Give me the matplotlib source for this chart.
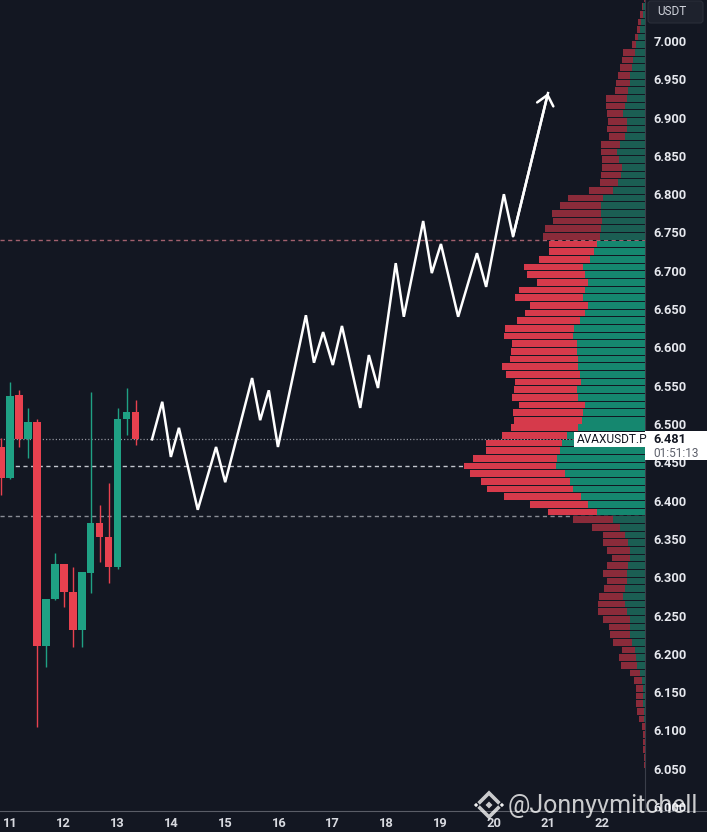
import numpy as np
import matplotlib
matplotlib.use('Agg')
import matplotlib.pyplot as plt
from matplotlib.patches import FancyBboxPatch, Rectangle, RegularPolygon
from matplotlib.transforms import IdentityTransform

plt.rcParams['font.family'] = ['Roboto', 'DejaVu Sans']

BG = '#131722'
W, H = 707, 832

# ---------------- data ----------------
# 4h candles, first candle at day 10 20:00
candle_start_day = 10 + 20 / 24
candle_step_day = 4 / 24
candle_open  = [6.470, 6.430, 6.538, 6.480, 6.503, 6.210, 6.272, 6.317, 6.281, 6.231, 6.306, 6.371, 6.352, 6.313, 6.507, 6.516]
candle_high  = [6.482, 6.555, 6.544, 6.521, 6.506, 6.272, 6.332, 6.317, 6.313, 6.307, 6.542, 6.394, 6.423, 6.521, 6.547, 6.531]
candle_low   = [6.407, 6.428, 6.470, 6.456, 6.104, 6.183, 6.270, 6.261, 6.209, 6.209, 6.279, 6.320, 6.292, 6.311, 6.486, 6.473]
candle_close = [6.430, 6.537, 6.480, 6.503, 6.210, 6.272, 6.317, 6.281, 6.231, 6.307, 6.371, 6.352, 6.313, 6.507, 6.516, 6.481]

# projected path (day, price)
path_day = [13.64, 13.83, 13.99, 14.14, 14.49, 14.83, 15.00, 15.50, 15.65, 15.81, 15.98, 16.50, 16.65, 16.82, 17.00,
            17.17, 17.51, 17.67, 17.84, 18.17, 18.32, 18.68, 18.84, 19.01, 19.33, 19.68, 19.85, 20.18, 20.35, 21.00]
path_price = [6.480, 6.529, 6.457, 6.495, 6.388, 6.470, 6.424, 6.560, 6.505, 6.544, 6.470, 6.642, 6.580, 6.620, 6.577,
              6.628, 6.521, 6.590, 6.547, 6.710, 6.640, 6.765, 6.697, 6.735, 6.640, 6.723, 6.679, 6.800, 6.745, 6.932]

# volume profile rows (lower edge price), total volume and up volume
profile_price = [7.05, 7.04, 7.03, 7.02, 7.01, 7.00, 6.99, 6.98, 6.97, 6.96, 6.95, 6.94, 6.93, 6.92, 6.91, 6.90,
                 6.89, 6.88, 6.87, 6.86, 6.85, 6.84, 6.83, 6.82, 6.81, 6.80, 6.79, 6.78, 6.77, 6.76, 6.75, 6.74,
                 6.73, 6.72, 6.71, 6.70, 6.69, 6.68, 6.67, 6.66, 6.65, 6.64, 6.63, 6.62, 6.61, 6.60, 6.59, 6.58,
                 6.57, 6.56, 6.55, 6.54, 6.53, 6.52, 6.51, 6.50, 6.49, 6.48, 6.47, 6.46, 6.45, 6.44, 6.43, 6.42,
                 6.41, 6.40, 6.39, 6.38, 6.37, 6.36, 6.35, 6.34, 6.33, 6.32, 6.31, 6.30, 6.29, 6.28, 6.27, 6.26,
                 6.25, 6.24, 6.23, 6.22, 6.21, 6.20, 6.19, 6.18, 6.17, 6.16, 6.15, 6.14, 6.13, 6.12, 6.11, 6.10,
                 6.09, 6.08, 6.07, 6.06, 6.05, 6.04, 6.03]
profile_total = [1, 3, 5, 7, 8, 10, 13, 22, 23, 25, 27, 29, 30, 39, 39, 38,
                 37, 38, 36, 44, 44, 43, 43, 44, 45, 56, 77, 85, 93, 92, 100, 102,
                 96, 96, 106, 121, 118, 108, 126, 130, 115, 120, 128, 140, 141, 133, 134, 135,
                 143, 139, 130, 131, 133, 126, 132, 131, 134, 143, 159, 159, 172, 181, 175, 164,
                 158, 141, 115, 97, 72, 53, 42, 42, 38, 33, 38, 42, 38, 41, 46, 47,
                 47, 42, 36, 35, 32, 23, 26, 24, 15, 11, 9, 9, 9, 8, 6, 3,
                 2, 2, 2, 1, 1, 0.5, 0.5]
profile_up = [0.5, 2, 2, 4, 5, 7, 9, 10, 12, 13, 15, 15, 17, 18, 20, 22,
              18, 18, 20, 25, 28, 26, 23, 24, 27, 32, 42, 44, 44, 43, 44, 45,
              48, 51, 55, 62, 60, 57, 60, 62, 57, 60, 65, 71, 72, 68, 68, 67,
              67, 65, 64, 68, 67, 60, 62, 63, 67, 78, 83, 85, 88, 89, 80, 75,
              72, 64, 57, 48, 32, 25, 20, 17, 15, 15, 17, 18, 18, 20, 22, 20,
              18, 15, 15, 15, 13, 10, 9, 8, 5, 3, 2, 2, 2, 1, 1, 0,
              0, 0, 0, 0, 0, 0, 0]
profile_row = 0.01
value_area_low = 6.38
value_area_high = 6.74
poc_level = 6.445
last_price = 6.481

price_ticks = [6.000, 6.050, 6.100, 6.150, 6.200, 6.250, 6.300, 6.350, 6.400, 6.450, 6.500,
               6.550, 6.600, 6.650, 6.700, 6.750, 6.800, 6.850, 6.900, 6.950, 7.000]
day_ticks = [11, 12, 13, 14, 15, 16, 17, 18, 19, 20, 21, 22]

# ---------------- figure ----------------
fig = plt.figure(figsize=(W / 100, H / 100), dpi=100, facecolor=BG)
ax_rect = [0, 21 / H, 645 / W, 811 / H]
ax = fig.add_axes(ax_rect, facecolor=BG)
ax.set_xlim(10.8141, 22.803)
ax.set_ylim(5.99478, 7.05352)

# reference lines
ax.axhline(value_area_high, color='#a2606e', lw=1.0, ls=(0, (3, 2.5)), zorder=1)
ax.axhline(last_price, color='#8f929b', lw=0.9, ls=(0, (1, 1.6)), zorder=1)
ax.axhline(poc_level, color='#c3c6ce', lw=1.0, ls=(0, (3, 2.5)), zorder=1)
ax.axhline(value_area_low, color='#8a8d96', lw=1.0, ls=(0, (3, 2.5)), zorder=1)

# candles
UP_C, DN_C = '#1fa184', '#e8414f'
for i, (o, h, l, c) in enumerate(zip(candle_open, candle_high, candle_low, candle_close)):
    t = candle_start_day + i * candle_step_day
    col = UP_C if c >= o else DN_C
    ax.vlines(t, l, h, color=col, lw=1.0, zorder=3)
    ax.bar(t, abs(c - o), bottom=min(o, c), width=candle_step_day * 0.84, color=col,
           edgecolor='none', zorder=4)

# projected path
ax.plot(path_day, path_price, color='white', lw=1.8, solid_joinstyle='miter', zorder=5)
ax.annotate('', xy=(path_day[-1], path_price[-1]), xytext=(path_day[-2], path_price[-2]),
            arrowprops=dict(arrowstyle='->,head_length=0.7,head_width=0.6', color='white', lw=1.8,
                            shrinkA=0, shrinkB=0, mutation_scale=10), zorder=5)

# axes styling
for s in ['top', 'left']:
    ax.spines[s].set_visible(False)
ax.spines['right'].set_color('#3a3e49')
ax.spines['bottom'].set_color('#5a5d67')
ax.spines['right'].set_linewidth(0.8)
ax.spines['bottom'].set_linewidth(0.8)
ax.yaxis.tick_right()
ax.set_yticks(price_ticks)
ax.set_yticklabels([f'{p:.3f}' for p in price_ticks])
ax.set_xticks(day_ticks)
ax.set_xticklabels([str(d) for d in day_ticks])
ax.tick_params(axis='y', length=0, pad=6, labelsize=9.3, labelcolor='#e6e8ee')
ax.tick_params(axis='x', length=0, pad=4.5, labelsize=9.3, labelcolor='#d8dae0')
for lab in ax.get_yticklabels() + ax.get_xticklabels():
    lab.set_fontweight('bold')

# volume profile
ax2 = fig.add_axes(ax_rect, sharey=ax)
ax2.patch.set_visible(False)
ax2.set_xlim(645, 0)
ax2.axis('off')
for p, tot, up in zip(profile_price, profile_total, profile_up):
    in_va = value_area_low - 1e-9 <= p < value_area_high - 1e-9
    g = '#15876f' if in_va else '#1b5e53'
    r = '#d63a4b' if in_va else '#8a2b3a'
    yc = p + profile_row / 2
    ax2.barh(yc, up, left=0, height=profile_row * 0.87, color=g, edgecolor='none', zorder=2)
    ax2.barh(yc, tot - up, left=up, height=profile_row * 0.87, color=r, edgecolor='none', zorder=2)

# bottom axis line across price scale
fig.add_artist(plt.Line2D([645 / W, 1], [21 / H, 21 / H], color='#5a5d67', lw=0.8,
                          transform=fig.transFigure))

# USDT box
fig.add_artist(FancyBboxPatch((648, H - 23), 55, 22, boxstyle='round,pad=0,rounding_size=3',
                              transform=IdentityTransform(), fc='#1e222d', ec='#2a2e39', lw=0.8, zorder=10))
fig.text(657 / W, 1 - 11.5 / H, 'USDT', color='#d1d4dc', fontsize=8.5, ha='left', va='center', zorder=11)

# last price labels
fig.canvas.draw()
ypix = ax.transData.transform((0, last_price))[1]  # display px from bottom
fig.add_artist(Rectangle((574, ypix - 8.5), 71, 15.5, transform=IdentityTransform(),
                         fc='white', ec='none', zorder=10))
fig.text(577 / W, (ypix - 0.5) / H, 'AVAXUSDT.P', color='#131722', fontsize=8.6,
         ha='left', va='center', zorder=11)
fig.add_artist(Rectangle((645, ypix - 21.5), 62, 29, transform=IdentityTransform(),
                         fc='white', ec='none', zorder=10))
fig.text(653 / W, (ypix - 0.5) / H, f'{last_price:.3f}', color='#131722', fontsize=9.2,
         fontweight='bold', ha='left', va='center', zorder=11)
fig.text(653 / W, (ypix - 14.5) / H, '01:51:13', color='#5d606b', fontsize=8.6,
         ha='left', va='center', zorder=11)

# watermark
wm_col = (1, 1, 1, 0.78)
fig.text(508 / W, 1 - 806 / H, '@Jonnyvmitchell', color=wm_col, fontsize=18,
         ha='left', va='center', zorder=12)
cx, cy = 489, H - 805
fig.add_artist(RegularPolygon((cx, cy), 4, radius=12, orientation=0, transform=IdentityTransform(),
                              fc='none', ec=wm_col, lw=2.6, zorder=12))
for dx, rr in [(0, 4.5), (-13, 3.2), (13, 3.2)]:
    fig.add_artist(RegularPolygon((cx + dx, cy), 4, radius=rr, orientation=0, transform=IdentityTransform(),
                                  fc=wm_col, ec=BG, lw=1.0, zorder=13))

fig.savefig('out.png', dpi=100, facecolor=BG)
